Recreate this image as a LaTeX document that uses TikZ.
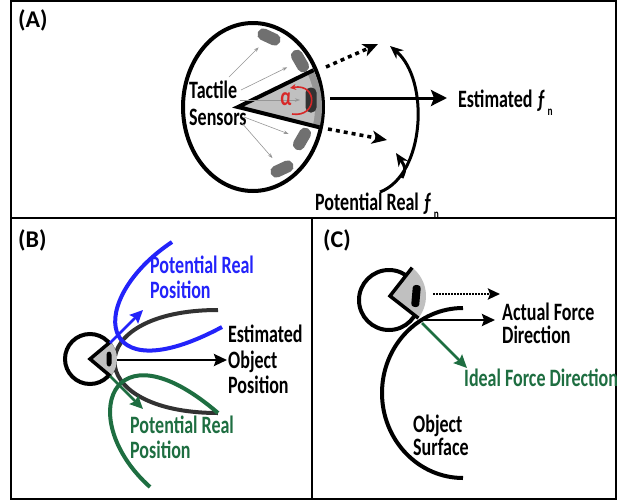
\documentclass[tikz,border=0pt]{standalone}
\usepackage{fontspec}
\usetikzlibrary{arrows.meta}
\newfontfamily\labfont{Carlito}[FakeStretch=0.72]
\newfontfamily\panfont{Carlito}
\definecolor{myblue}{RGB}{35,35,250}
\definecolor{mygreen}{RGB}{30,110,65}
\definecolor{myred}{RGB}{215,40,40}
\definecolor{lgray}{RGB}{192,192,192}
\definecolor{mgray}{RGB}{150,150,150}
\definecolor{sgray}{RGB}{112,112,112}
\definecolor{dgray}{RGB}{50,50,50}
\newcommand{\fnsub}{ƒ\hspace{2pt}\raisebox{-8pt}{\fontsize{13}{13}\selectfont n}}
\begin{document}
\begin{tikzpicture}[x=1pt,y=1pt,
  lbl/.style={font=\labfont\bfseries\fontsize{25}{25}\selectfont, inner sep=0pt, anchor=base west},
  plbl/.style={font=\panfont\bfseries\fontsize{24}{24}\selectfont, inner sep=0pt, anchor=base west},
  frameline/.style={line width=2.5pt},
  outline/.style={line width=4pt},
  bigarr/.style={line width=3pt, -{Stealth[length=16pt,width=16pt,inset=3pt]}},
  dotarr/.style={line width=3.5pt, dash pattern=on 4pt off 4pt, -{Stealth[length=15pt,width=13pt,inset=4pt]}},
  curvarr/.style={line width=3pt, -{Stealth[length=13pt,width=11pt,inset=4pt]}},
  thinarr/.style={draw=mgray, line width=0.6pt, -{Stealth[length=5pt,width=3.5pt]}},
  midarr/.style={line width=2.5pt, -{Stealth[length=13pt,width=12pt,inset=2pt]}},
  sensor/.style={fill=sgray, rounded corners=5.5pt, minimum width=24pt, minimum height=12pt, inner sep=0pt},
  pill/.style={fill=black, rounded corners=3pt, inner sep=0pt},
  curve/.style={line width=4pt}
]
\useasboundingbox (0,0) rectangle (624,-501);
% frame
\draw[frameline] (11,-1) rectangle (616,-499);
\draw[frameline] (11,-218) -- (616,-218);
\draw[frameline] (312,-218) -- (312,-499);

% ---------------- Panel A
\node[plbl] (la) at (18,-27) {(A)};
\draw[outline] (253,-107) ellipse [x radius=70, y radius=84];
\node[sensor, rotate=-25] (s1) at (269,-37) {};
\node[sensor, rotate=-60] (s2) at (300,-61) {};
\node[sensor, rotate=60] (s3) at (302,-139) {};
\node[sensor, rotate=25] (s4) at (282,-169) {};
\coordinate (apexA) at (238,-107);
\fill[mgray] (apexA) -- ++(26:84) arc[start angle=26, end angle=-14, radius=84] -- cycle;
\fill[lgray] (apexA) -- ++(26:77) arc[start angle=26, end angle=-14, radius=77] -- cycle;
\draw[outline, line join=miter] (apexA) ++(26:84) -- (apexA) -- ++(-14:84);
\draw[thinarr] (240,-100) -- (300,-100);
\node[fill=dgray, rounded corners=5pt, minimum width=11pt, minimum height=25pt, inner sep=0pt] (pa) at (311,-100) {};
\node[font=\labfont\bfseries\fontsize{26}{26}\selectfont, text=myred, inner sep=0pt] (alpha) at (286,-99) {α};
\draw[myred, line width=1.6pt, -{Stealth[length=6pt,width=6pt]}] (292,-114) .. controls (318,-118) and (318,-83) .. (290,-88);
\node[lbl] (tact1) at (189,-98) {Tactile};
\node[lbl] (tact2) at (189,-125) {Sensors};
\draw[thinarr, shorten >=8pt] (229,-77) -- (s1);
\draw[thinarr, shorten >=8pt] (241,-90) -- (s2);
\draw[thinarr, shorten >=8pt] (244,-117) -- (s3);
\draw[thinarr, shorten >=8pt] (241,-122) -- (s4);
\node[lbl] (estA) at (458,-107) {Estimated \fnsub};
\node[lbl] (potA) at (315,-210) {Potential Real \fnsub};
\draw[bigarr] (330,-98) -- ([xshift=-11pt]estA.west |- 0,-98);
\draw[dotarr] (326,-67) -- (378,-44);
\draw[dotarr] (328,-129) -- (387,-140);
\draw[curvarr] (380,-192) .. controls (425,-175) and (430,-80) .. (390,-46);
\draw[curvarr] (402,-178) .. controls (406,-168) .. (396,-153);

% ---------------- Panel B
\node[plbl] (lb) at (18,-247) {(B)};
\draw[outline] (90,-359) circle[radius=25];
\draw[curve, draw=dgray] (218,-310) .. controls (80,-310) and (80,-413) .. (218,-413);
\draw[curve, draw=myblue] (172,-242) .. controls (85,-300) and (95,-395) .. (222,-327);
\draw[curve, draw=mygreen] (218,-413) .. controls (110,-320) and (75,-420) .. (150,-487);
\coordinate (apexB) at (90,-359);
\fill[lgray] (apexB) -- ++(40:27) arc[start angle=40, end angle=-40, radius=27] -- cycle;
\draw[line width=3.5pt, line join=miter] (apexB) ++(40:27) -- (apexB) -- ++(-40:27);
\node[pill, minimum width=5pt, minimum height=15pt] (pb) at (109,-359) {};
\node[lbl] (estB1) at (228,-342) {Estimated};
\node[lbl] (estB2) at (228,-368) {Object};
\node[lbl] (estB3) at (228,-393) {Position};
\node[lbl, text=myblue] (blB1) at (150,-273) {Potential Real};
\node[lbl, text=myblue] (blB2) at (150,-298) {Position};
\node[lbl, text=mygreen] (grB1) at (130,-433) {Potential Real};
\node[lbl, text=mygreen] (grB2) at (130,-458) {Position};
\draw[midarr] (117,-360) -- (227,-360);
\draw[midarr, draw=myblue, fill=myblue] (110,-343) -- (143,-310);
\draw[midarr, draw=mygreen, fill=mygreen] (110,-376) -- (143,-409);

% ---------------- Panel C
\node[plbl] (lc) at (323,-247) {(C)};
\draw[outline] (463,-308) arc[start angle=90, end angle=270, x radius=81, y radius=85];
\draw[outline] (389,-300) circle[radius=30];
\coordinate (apexC) at (390,-296);
\fill[lgray] (apexC) -- ++(52:36) arc[start angle=52, end angle=-38, radius=36] -- cycle;
\draw[line width=3.5pt, line join=miter] (apexC) ++(52:36) -- (apexC) -- ++(-38:36);
\node[pill, minimum width=8pt, minimum height=22pt, rotate=-5] (pc) at (416,-296) {};
\draw[line width=2.5pt, dash pattern=on 1.5pt off 1.5pt, -{Stealth[length=12pt,width=11pt,inset=2pt]}] (433,-294) -- (500,-294);
\draw[midarr] (420,-320) -- (495,-320);
\draw[midarr, draw=mygreen, fill=mygreen] (422,-323) -- (467,-368);
\node[lbl] (afC1) at (502,-320) {Actual Force};
\node[lbl] (afC2) at (502,-343) {Direction};
\node[lbl, text=mygreen] (ifC) at (464,-386) {Ideal Force Direction};
\node[lbl] (osC1) at (413,-432) {Object};
\node[lbl] (osC2) at (413,-455) {Surface};
\end{tikzpicture}
\end{document}
